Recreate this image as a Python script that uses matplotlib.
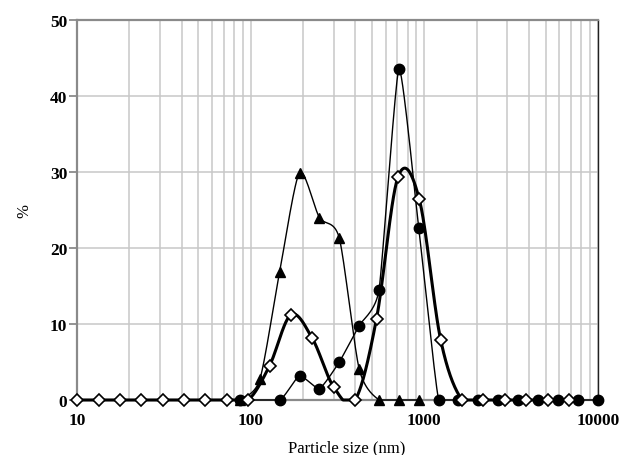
import numpy as np
import matplotlib
matplotlib.use("Agg")
import matplotlib.pyplot as plt
from matplotlib.ticker import FixedLocator, NullFormatter

# ---- data ----
diam_x = [10.0, 13.3, 17.6, 23.4, 31.1, 41.3, 54.8, 72.8, 96.7, 128.4, 170.5,
          226.5, 300.8, 399.4, 530.4, 704.4, 935.5, 1242.3, 1649.8, 2190.9,
          2909.6, 3864.0, 5131.4, 6814.6]
diam_y = [0, 0, 0, 0, 0, 0, 0, 0, 0, 4.5, 11.2, 8.1, 1.7, 0.0, 10.7, 29.3,
          26.4, 7.9, 0, 0, 0, 0, 0, 0]

circ_x = [86.7, 146.9, 191.1, 248.8, 323.8, 421.4, 548.4, 713.7, 928.8,
          1208.7, 1573.0, 2047.1, 2664.1, 3467.1, 4512.1, 5872.0, 7684.0, 10000.0]
circ_y = [0, 0, 3.2, 1.5, 5.0, 9.8, 14.5, 43.6, 22.6, 0, 0, 0, 0, 0, 0, 0, 0, 0]

tri_x = [86.7, 112.9, 146.9, 191.1, 248.8, 323.8, 421.4, 548.4, 713.7, 928.8]
tri_y = [0, 2.7, 16.9, 29.9, 24.0, 21.3, 4.1, 0, 0, 0]

x_ticks = [10, 100, 1000, 10000]
x_ticklabels = ["10", "100", "1000", "10000"]
y_ticks = [0, 10, 20, 30, 40, 50]


def smooth(xs, ys, n=30, k=6.0):
    """Bezier smoothing (Excel-like) in log-x space, kept at or above zero."""
    u = np.log10(np.asarray(xs, float))
    v = np.asarray(ys, float)
    P = np.column_stack([u, v])
    m = len(P)
    out = []
    t = np.linspace(0, 1, n)[:, None]
    for i in range(m - 1):
        p0 = P[i]
        p3 = P[i + 1]
        pm = P[i - 1] if i > 0 else P[i]
        pp = P[i + 2] if i + 2 < m else P[i + 1]
        c1 = p0 + (p3 - pm) / k
        c2 = p3 - (pp - p0) / k
        seg = ((1 - t) ** 3) * p0 + 3 * ((1 - t) ** 2) * t * c1 + 3 * (1 - t) * t ** 2 * c2 + t ** 3 * p3
        out.append(seg if i == 0 else seg[1:])
    S = np.vstack(out)
    return 10 ** S[:, 0], np.maximum(S[:, 1], 0)


fig = plt.figure(figsize=(6.22, 4.56), dpi=100)
ax = fig.add_axes([77 / 622, 1 - 401 / 456, 521 / 622, 380 / 456])

ax.set_xscale("log")
ax.set_xlim(10, 10000)
ax.set_ylim(0, 50)

grid_c = "#c8c8c8"
ax.xaxis.set_major_locator(FixedLocator(x_ticks))
ax.set_xticklabels(x_ticklabels)
ax.xaxis.set_minor_locator(FixedLocator([m * 10 ** d for d in range(1, 4) for m in range(2, 10)]))
ax.xaxis.set_minor_formatter(NullFormatter())
ax.set_yticks(y_ticks)
ax.grid(True, which="both", axis="x", color=grid_c, lw=1.1)
ax.grid(True, which="major", axis="y", color=grid_c, lw=1.1)
ax.set_axisbelow(True)

ax.tick_params(axis="x", which="both", length=0, pad=9)
ax.tick_params(axis="y", length=6, width=1.2, color="#808080", pad=1)

for lab in ax.get_xticklabels() + ax.get_yticklabels():
    lab.set_fontfamily("Liberation Serif")
    lab.set_fontweight("bold")
    lab.set_fontsize(12.5)

for s in ["left", "top", "bottom"]:
    ax.spines[s].set_color("#8a8a8a")
    ax.spines[s].set_linewidth(1.6)
ax.spines["right"].set_color("#202020")
ax.spines["right"].set_linewidth(1.0)

# diamonds: thick smooth line
sx, sy = smooth(diam_x, diam_y)
ax.plot(sx, sy, color="black", lw=2.2, zorder=3, clip_on=False)
ax.plot(diam_x, diam_y, ls="none", marker="D", ms=6.2, mfc="white", mec="black",
        mew=1.2, zorder=5, clip_on=False)

# triangles
sx, sy = smooth(tri_x, tri_y, k=8.0)
ax.plot(sx, sy, color="black", lw=1.0, zorder=3, clip_on=False)
ax.plot(tri_x, tri_y, ls="none", marker="^", ms=7.5, mfc="black", mec="black",
        zorder=4, clip_on=False)

# circles
sx, sy = smooth(circ_x, circ_y, k=12.0)
ax.plot(sx, sy, color="black", lw=1.0, zorder=3, clip_on=False)
ax.plot(circ_x, circ_y, ls="none", marker="o", ms=7.5, mfc="black", mec="black",
        zorder=4, clip_on=False)

ax.set_xlabel("Particle size (nm)", fontfamily="Liberation Serif", fontsize=12)
ax.xaxis.set_label_coords((347 - 77) / 521, -39 / 380)
ax.set_ylabel("%", fontfamily="Liberation Serif", fontsize=12)
ax.yaxis.set_label_coords(-45 / 521, 0.5)

fig.savefig("out.png", dpi=100)
